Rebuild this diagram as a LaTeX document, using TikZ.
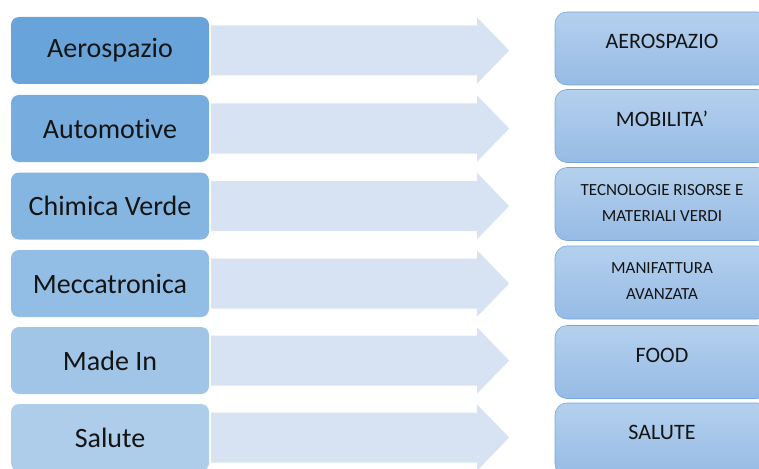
\documentclass[tikz,border=0pt]{standalone}
\usepackage{fontspec}
\setmainfont{Carlito}[Ligatures={NoCommon}]
\usetikzlibrary{calc}
\definecolor{lA}{RGB}{104,164,218}
\definecolor{lB}{RGB}{119,173,222}
\definecolor{lC}{RGB}{133,181,225}
\definecolor{lD}{RGB}{146,189,228}
\definecolor{lE}{RGB}{160,197,231}
\definecolor{lF}{RGB}{173,205,234}
\definecolor{rtop}{RGB}{180,208,238}
\definecolor{rbot}{RGB}{150,187,228}
\definecolor{rborder}{RGB}{120,166,219}
\definecolor{arrfill}{RGB}{215,227,242}
\definecolor{txt}{RGB}{20,20,20}
\tikzset{
  lbox/.style={rounded corners=8pt, minimum width=198pt, minimum height=67pt, inner sep=0pt,
    font=\fontsize{28}{30}\selectfont, text=txt},
  rbox/.style={rounded corners=12pt, draw=rborder, line width=0.6pt, top color=rtop, bottom color=rbot,
    minimum width=214pt, minimum height=73pt, inner sep=0pt},
  rlab/.style={font=\fontsize{22}{24}\selectfont, text=txt, yshift=7pt, inner sep=0pt},
  rsmall/.style={font=\fontsize{17}{26}\selectfont, text=txt, align=center, inner sep=0pt},
  arrbody/.style={fill=arrfill}
}
\newcommand{\blockarrow}[1]{%
  \fill[arrbody] ($(#1.east)+(2,-25)$) -- ($(#1.east)+(268,-25)$) -- ($(#1.east)+(268,-33)$)
    -- ($(#1.east)+(300,0)$) -- ($(#1.east)+(268,33)$) -- ($(#1.east)+(268,25)$)
    -- ($(#1.east)+(2,25)$) -- cycle;}
\begin{document}
\begin{tikzpicture}[x=1pt,y=-1pt]
\useasboundingbox (0,0) rectangle (759,468);
\clip (0,0) rectangle (759,468);
% left boxes
\node[lbox, fill=lA] (l1) at (110,50.5) {Aerospazio};
\node[lbox, fill=lB] (l2) at (110,128.5) {Automotive};
\node[lbox, fill=lC] (l3) at (110,206) {Chimica Verde};
\node[lbox, fill=lD] (l4) at (110,283.5) {Meccatronica};
\node[lbox, fill=lE] (l5) at (110,360.5) {Made In};
\node[lbox, fill=lF] (l6) at (110,437.5) {Salute};
% arrows
\blockarrow{l1}
\blockarrow{l2}
\blockarrow{l3}
\blockarrow{l4}
\blockarrow{l5}
\blockarrow{l6}
% right boxes
\node[rbox, label={[rlab]center:AEROSPAZIO}] (r1) at (662,48.5) {};
\node[rbox, label={[rlab]center:MOBILITA’}] (r2) at (662,126) {};
\node[rbox] (r3) at (662,204) {};
\node[rsmall] (t3) at ($(r3.center)+(0,-1)$) {TECNOLOGIE RISORSE E\\MATERIALI VERDI};
\node[rbox] (r4) at (662,282.5) {};
\node[rsmall] (t4) at ($(r4.center)+(0,-1)$) {MANIFATTURA\\AVANZATA};
\node[rbox, label={[rlab]center:FOOD}] (r5) at (662,362) {};
\node[rbox, label={[rlab]center:SALUTE}] (r6) at (662,439.5) {};
\end{tikzpicture}
\end{document}
